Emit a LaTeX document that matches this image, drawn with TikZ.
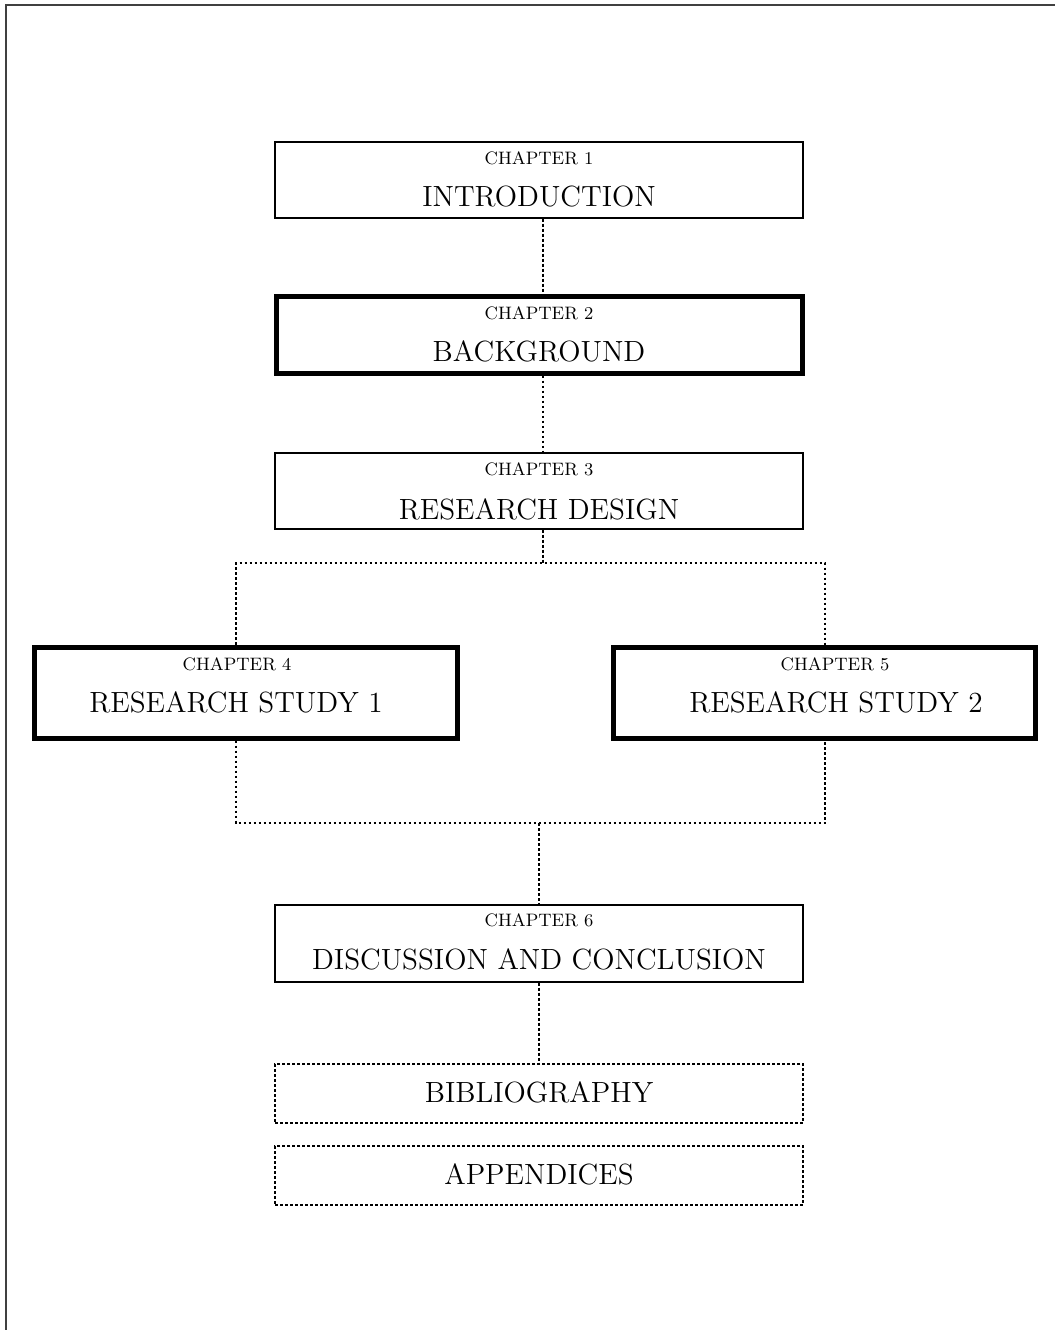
\documentclass[tikz,border=0pt]{standalone}
\begin{document}
\begin{tikzpicture}[x=0.5pt,y=-0.5pt,
  thinbox/.style={draw=black, line width=0.7pt, rectangle, inner sep=0pt, minimum width=264pt, minimum height=38pt},
  thickbox/.style={draw=black, line width=2.5pt, rectangle, inner sep=0pt},
  dotbox/.style={draw=black, line width=0.65pt, dash pattern=on 1.4pt off 1.1pt, rectangle, inner sep=0pt, minimum width=264pt, minimum height=29.5pt},
  conn/.style={draw=black, line width=0.65pt, dash pattern=on 1.4pt off 1.1pt},
  small/.style={font=\fontsize{9}{10}\selectfont, anchor=base, inner sep=0pt},
  big/.style={font=\fontsize{14.6}{16}\selectfont, anchor=base, inner sep=0pt},
  frame/.style={draw=black!75, line width=0.8pt}]
\useasboundingbox (0,0) rectangle (1055,1330);
% page frame (top and left edges)
\coordinate (fa) at (6,1330);
\coordinate (fb) at (6,5);
\coordinate (fc) at (1055,5);
\draw[frame] (fa) -- (fb) -- (fc);

% boxes
\node[thinbox] (b1) at (539,180) {};
\node[small] (b1s) at (539,164.5) {CHAPTER 1};
\node[big] (b1t) at (539,206.5) {INTRODUCTION};

\node[thickbox, minimum width=263pt, minimum height=38.5pt] (b2) at (539,334.5) {};
\node[small] (b2s) at (539,319) {CHAPTER 2};
\node[big] (b2t) at (539,361) {BACKGROUND};

\node[thinbox] (b3) at (539,491) {};
\node[small] (b3s) at (539,475.5) {CHAPTER 3};
\node[big] (b3t) at (539,519.5) {RESEARCH DESIGN};

\node[thickbox, minimum width=211.5pt, minimum height=45.5pt] (b4) at (245.5,692.5) {};
\node[small] (b4s) at (237,670.5) {CHAPTER 4};
\node[big] (b4t) at (236,712.5) {RESEARCH STUDY 1};

\node[thickbox, minimum width=211pt, minimum height=45.5pt] (b5) at (824.5,692.5) {};
\node[small] (b5s) at (835,670.5) {CHAPTER 5};
\node[big] (b5t) at (836,712.5) {RESEARCH STUDY 2};

\node[thinbox, minimum height=38.5pt] (b6) at (539,943.5) {};
\node[small] (b6s) at (539,926.5) {CHAPTER 6};
\node[big] (b6t) at (539,969.5) {DISCUSSION AND CONCLUSION};

\node[dotbox] (bib) at (539,1093.5) {};
\node[big] (bibt) at (539,1102.5) {BIBLIOGRAPHY};

\node[dotbox] (app) at (539,1175.5) {};
\node[big] (appt) at (539,1184.5) {APPENDICES};

% junction coordinates
\coordinate (jt) at (543,563);
\coordinate (jl) at (236,563);
\coordinate (jr) at (825,563);
\coordinate (kl) at (236,823);
\coordinate (kr) at (825,823);
\coordinate (km) at (539,823);

% connectors
\draw[conn] ([xshift=2pt]b1.south) -- ([xshift=2pt]b2.north);
\draw[conn] ([xshift=2pt]b2.south) -- ([xshift=2pt]b3.north);
\draw[conn] ([xshift=2pt]b3.south) -- (jt);
\draw[conn] (b4.north -| jl) -- (jl) -- (jr) -- (b5.north -| jr);
\draw[conn] (b4.south -| kl) -- (kl) -- (kr) -- (b5.south -| kr);
\draw[conn] (km) -- (b6.north);
\draw[conn] (b6.south) -- (bib.north);
\end{tikzpicture}
\end{document}
